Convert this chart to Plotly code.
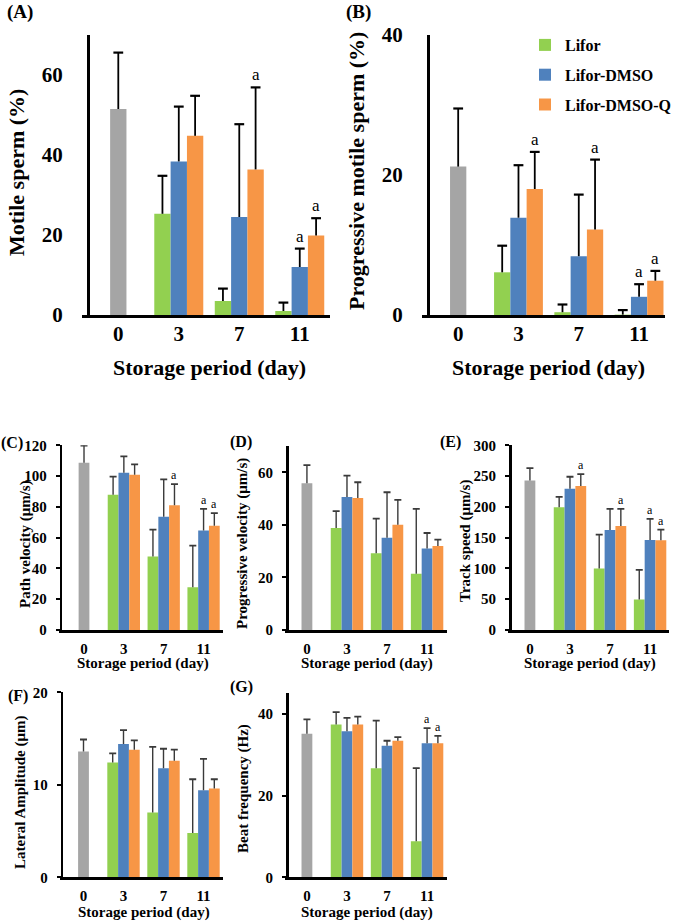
import plotly.graph_objects as go

W, H = 674, 921
FONT = "Liberation Serif, Times New Roman, serif"

days = ["0", "3", "7", "11"]
groups = ["Lifor", "Lifor-DMSO", "Lifor-DMSO-Q"]
colors = ["#92D050", "#4F81BD", "#F79646"]
fresh_color = "#A5A5A5"

# (A) Motile sperm (%)
motile_fresh = [51.5, 14.1]
motile_mean = [[25.3, 3.5, 1.0], [38.4, 24.5, 12.0], [44.8, 36.4, 19.9]]
motile_sd = [[9.5, 3.1, 2.1], [13.7, 23.2, 4.6], [10.0, 20.5, 4.3]]
motile_sig = [[0, 0, 0], [0, 0, 1], [0, 1, 1]]

# (B) Progressive motile sperm (%)
prog_fresh = [21.2, 8.3]
prog_mean = [[6.1, 0.4, 0.05], [13.9, 8.4, 2.6], [18.0, 12.2, 4.9]]
prog_sd = [[3.8, 1.1, 0.65], [7.5, 8.8, 1.8], [5.3, 10.0, 1.4]]
prog_sig = [[0, 0, 0], [0, 0, 1], [1, 1, 1]]

# (C) Path velocity
path_fresh = [108.7, 11.1]
path_mean = [[87.8, 47.8, 27.8], [102.2, 73.5, 64.6], [100.9, 81.1, 67.8]]
path_sd = [[11.8, 17.4, 27.0], [10.6, 24.3, 14.1], [6.7, 13.7, 8.1]]
path_sig = [[0, 0, 0], [0, 0, 1], [0, 1, 1]]

# (D) Progressive velocity
vsl_fresh = [55.8, 6.9]
vsl_mean = [[38.8, 29.2, 21.4], [50.6, 35.1, 31.0], [50.2, 40.0, 32.0]]
vsl_sd = [[6.4, 13.2, 24.7], [8.1, 17.3, 5.9], [6.0, 9.5, 2.4]]
vsl_sig = [[0, 0, 0], [0, 0, 0], [0, 0, 0]]

# (E) Track speed
track_fresh = [243.0, 20.0]
track_mean = [[199.5, 100.0, 49.5], [229.3, 162.5, 146.2], [233.7, 169.0, 145.7]]
track_sd = [[16.8, 54.9, 48.3], [19.6, 34.2, 34.2], [19.6, 27.7, 17.3]]
track_sig = [[0, 0, 0], [0, 0, 1], [1, 1, 1]]

# (F) Lateral Amplitude
amp_fresh = [13.6, 1.3]
amp_mean = [[12.4, 7.0, 4.8], [14.4, 11.8, 9.4], [13.8, 12.6, 9.6]]
amp_sd = [[1.0, 7.1, 5.8], [1.5, 2.1, 3.4], [1.0, 1.2, 1.0]]
amp_sig = [[0, 0, 0], [0, 0, 0], [0, 0, 0]]

# (G) Beat frequency
beat_fresh = [35.1, 3.5]
beat_mean = [[37.4, 26.7, 8.8], [35.7, 32.2, 32.8], [37.4, 33.4, 32.8]]
beat_sd = [[3.0, 11.6, 17.9], [3.3, 1.2, 3.7], [1.9, 0.9, 1.8]]
beat_sig = [[0, 0, 0], [0, 0, 1], [0, 0, 1]]

# ---------------- layout specs (pixels) ----------------
panels = [
    dict(label="(A)", lab_xy=(20, 12), ytitle="Motile sperm (%)", yt_xy=(17, 173),
         xt_xy=(209, 368), ax=88, dom=(82, 330), top=35, bot=315, xr=(-0.6, 3.5),
         yr=70, yticks=[0, 20, 40, 60], big=True,
         data=(motile_fresh, motile_mean, motile_sd, motile_sig)),
    dict(label="(B)", lab_xy=(358, 12), ytitle="Progressive motile sperm (%)", yt_xy=(357, 171),
         xt_xy=(548, 368), ax=428, dom=(422, 665), top=35, bot=315, xr=(-0.6, 3.43),
         yr=40, yticks=[0, 20, 40], big=True,
         data=(prog_fresh, prog_mean, prog_sd, prog_sig)),
    dict(label="(C)", lab_xy=(12, 443), ytitle="Path velocity (μm/s)", yt_xy=(25, 544),
         xt_xy=(143, 663), ax=60.7, dom=(58.5, 222.7), top=445.3, bot=630, xr=(-0.64, 3.48),
         yr=120, yticks=[0, 20, 40, 60, 80, 100, 120], big=False,
         data=(path_fresh, path_mean, path_sd, path_sig)),
    dict(label="(D)", lab_xy=(241, 442), ytitle="Progressive velocity (μm/s)", yt_xy=(242, 544),
         xt_xy=(367, 663), ax=287, dom=(284.5, 446.7), top=446, bot=630, xr=(-0.56, 3.49),
         yr=70, yticks=[0, 20, 40, 60], big=False,
         data=(vsl_fresh, vsl_mean, vsl_sd, vsl_sig)),
    dict(label="(E)", lab_xy=(451, 442), ytitle="Track speed (μm/s)", yt_xy=(465, 541),
         xt_xy=(590, 663), ax=510, dom=(507.5, 669.3), top=445.3, bot=630, xr=(-0.56, 3.48),
         yr=300, yticks=[0, 50, 100, 150, 200, 250, 300], big=False,
         data=(track_fresh, track_mean, track_sd, track_sig)),
    dict(label="(F)", lab_xy=(18, 696), ytitle="Lateral Amplitude (μm)", yt_xy=(20, 792),
         xt_xy=(144, 912), ax=61.7, dom=(59.5, 222.7), top=692.3, bot=877.3, xr=(-0.6, 3.48),
         yr=20, yticks=[0, 10, 20], big=False,
         data=(amp_fresh, amp_mean, amp_sd, amp_sig)),
    dict(label="(G)", lab_xy=(241, 687), ytitle="Beat frequency (Hz)", yt_xy=(243, 789),
         xt_xy=(367, 912), ax=287, dom=(284.5, 446.7), top=693.3, bot=877.3, xr=(-0.56, 3.49),
         yr=45, yticks=[0, 20, 40], big=False,
         data=(beat_fresh, beat_mean, beat_sd, beat_sig)),
]

BW = 0.27  # bar width in category units

fig = go.Figure()
annotations = []
layout = dict(width=W, height=H, margin=dict(l=0, r=0, t=0, b=0, autoexpand=False),
              paper_bgcolor="white", plot_bgcolor="white", barmode="overlay",
              showlegend=True)

for i, p in enumerate(panels):
    n = i + 1
    xa = "x" if n == 1 else f"x{n}"
    ya = "y" if n == 1 else f"y{n}"
    big = p["big"]
    fresh, means, sds, sigs = p["data"]
    err_col = "#000000" if big else "#3a3a3a"
    err_th = 1.8 if big else 1.4
    cap = 7 if big else 5

    # fresh (day 0) bar
    fig.add_trace(go.Bar(x=[0], y=[fresh[0]], width=BW, xaxis=xa, yaxis=ya,
                         marker=dict(color=fresh_color, line=dict(width=0)),
                         error_y=dict(type="data", array=[fresh[1]], arrayminus=[0],
                                      symmetric=False, color=err_col, thickness=err_th, width=0),
                         showlegend=False, hoverinfo="skip"))
    fig.add_trace(go.Scatter(x=[0], y=[fresh[0] + fresh[1]], mode="markers", xaxis=xa, yaxis=ya,
                             marker=dict(symbol="line-ew", size=cap,
                                         line=dict(width=err_th + 0.4, color=err_col)),
                             showlegend=False, hoverinfo="skip"))
    for k in range(3):
        xs = [d + (k - 1) * BW for d in (1, 2, 3)]
        fig.add_trace(go.Bar(x=xs, y=means[k], width=BW, xaxis=xa, yaxis=ya, name=groups[k],
                             marker=dict(color=colors[k], line=dict(width=0)),
                             error_y=dict(type="data", array=sds[k], arrayminus=[0, 0, 0],
                                          symmetric=False, color=err_col, thickness=err_th, width=0),
                             showlegend=(n == 1), legendgroup=groups[k], hoverinfo="skip"))
        tops = [m + s for m, s in zip(means[k], sds[k])]
        fig.add_trace(go.Scatter(x=xs, y=tops, mode="markers", xaxis=xa, yaxis=ya,
                                 marker=dict(symbol="line-ew", size=cap,
                                             line=dict(width=err_th + 0.4, color=err_col)),
                                 showlegend=False, hoverinfo="skip"))
        for j in range(3):
            if sigs[k][j]:
                annotations.append(dict(x=xs[j], y=tops[j], xref=xa, yref=ya, text="a",
                                        showarrow=False, yanchor="bottom",
                                        yshift=1 if big else 0,
                                        font=dict(family=FONT, size=17 if big else 12, color="black")))

    tick_fs = 21 if big else 15
    lw = 3 if big else 2.5
    xkey = "xaxis" if n == 1 else f"xaxis{n}"
    ykey = "yaxis" if n == 1 else f"yaxis{n}"
    layout[xkey] = dict(domain=[p["dom"][0] / W, p["dom"][1] / W], range=list(p["xr"]),
                        anchor=ya, showline=True, linecolor="black", linewidth=lw,
                        tickvals=[0, 1, 2, 3], ticktext=days, ticks="",
                        ticklabelstandoff=-2 if big else 3, automargin=False,
                        tickfont=dict(family=FONT, size=tick_fs, color="black", weight="bold"),
                        showgrid=False, zeroline=False, fixedrange=True)
    layout[ykey] = dict(domain=[1 - p["bot"] / H, 1 - p["top"] / H], range=[0, p["yr"]],
                        anchor="free", position=p["ax"] / W, showline=True, linecolor="black",
                        linewidth=lw, tickvals=p["yticks"], automargin=False,
                        ticks="" if big else "outside", ticklen=4, tickwidth=2, tickcolor="black",
                        ticklabelstandoff=20 if big else 6,
                        tickfont=dict(family=FONT, size=tick_fs, color="black", weight="bold"),
                        showgrid=False, zeroline=False, fixedrange=True)

    tfs = 22 if big else 15
    annotations.append(dict(x=p["yt_xy"][0] / W, y=1 - p["yt_xy"][1] / H, xref="paper", yref="paper",
                            text=p["ytitle"], textangle=-90, showarrow=False,
                            xanchor="center", yanchor="middle",
                            font=dict(family=FONT, size=tfs, color="black", weight="bold")))
    annotations.append(dict(x=p["xt_xy"][0] / W, y=1 - p["xt_xy"][1] / H, xref="paper", yref="paper",
                            text="Storage period (day)", showarrow=False,
                            xanchor="center", yanchor="middle",
                            font=dict(family=FONT, size=tfs, color="black", weight="bold")))
    annotations.append(dict(x=p["lab_xy"][0] / W, y=1 - p["lab_xy"][1] / H, xref="paper", yref="paper",
                            text=p["label"], showarrow=False, xanchor="center", yanchor="middle",
                            font=dict(family=FONT, size=19 if big else 16, color="black", weight="bold")))

layout["annotations"] = annotations
layout["legend"] = dict(x=525 / W, y=1 - 28 / H, xanchor="left", yanchor="top",
                        bgcolor="rgba(0,0,0,0)", borderwidth=0, tracegroupgap=6,
                        font=dict(family=FONT, size=16, color="black", weight="bold"))
fig.update_layout(**layout)
fig.write_html("out.html", config={"displayModeBar": False, "staticPlot": True},
               post_script="document.body.style.margin='0';document.body.style.overflow='hidden';")
